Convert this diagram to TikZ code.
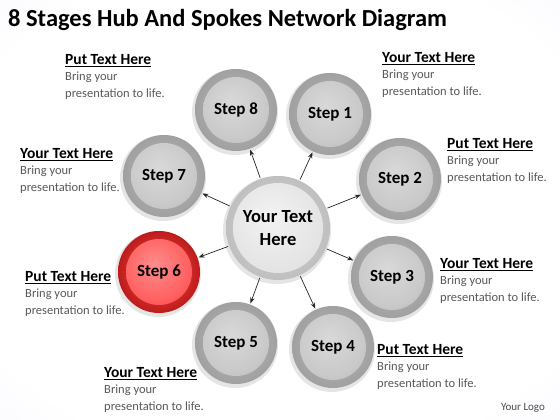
\documentclass[tikz,border=0pt]{standalone}
\usepackage{fontspec}
\setmainfont{Carlito}
\usetikzlibrary{positioning,arrows.meta,backgrounds}

% shadings for the balls
\pgfdeclareradialshading{greyrim}{\pgfpoint{0bp}{0bp}}{color(0bp)=(gray!55); color(39bp)=(gray!85); color(41bp)=(gray!52); color(45bp)=(gray!58); color(48bp)=(gray!70); color(50bp)=(gray!92)}
\pgfdeclareradialshading{greycore}{\pgfpoint{-3bp}{5bp}}{color(0bp)=(gray!30); color(20bp)=(gray!42); color(38bp)=(gray!64); color(46bp)=(gray!84); color(50bp)=(gray!95!black)}
\pgfdeclareradialshading{redrim}{\pgfpoint{0bp}{0bp}}{color(0bp)=(red!70); color(39bp)=(red!60!black); color(41bp)=(red!85); color(45bp)=(red!90!black); color(48bp)=(red!75!black); color(50bp)=(red!50!black)}
\pgfdeclareradialshading{redcore}{\pgfpoint{-3bp}{5bp}}{color(0bp)=(red!45); color(20bp)=(red!62); color(38bp)=(red!88); color(46bp)=(red!80!black); color(50bp)=(red!60!black)}
\pgfdeclareradialshading{hubrim}{\pgfpoint{0bp}{0bp}}{color(0bp)=(gray!35); color(42bp)=(gray!60); color(44bp)=(gray!20); color(47bp)=(gray!48); color(50bp)=(gray!75)}
\pgfdeclareradialshading{hubcore}{\pgfpoint{-4bp}{6bp}}{color(0bp)=(gray!10); color(25bp)=(gray!22); color(43bp)=(gray!42); color(50bp)=(gray!66)}
\pgfdeclareradialshading{bgglow}{\pgfpoint{0bp}{0bp}}{color(0bp)=(white); color(30bp)=(white); color(50bp)=(blue!5!white)}

\tikzset{
  stepball/.style n args={2}{circle, minimum size=82pt, inner sep=0pt,
    font=\bfseries\fontsize{17}{19}\selectfont, shading=#1,
    path picture={\shade[shading=#2] (path picture bounding box.center) circle (33pt);}},
  greyball/.style={stepball={greyrim}{greycore}},
  redball/.style={stepball={redrim}{redcore}},
  hubball/.style={circle, minimum size=104pt, inner sep=0pt, align=center,
    font=\bfseries\fontsize{18.5}{23}\selectfont, shading=hubrim,
    path picture={\shade[shading=hubcore] (path picture bounding box.center) circle (45pt);}},
  spoke/.style={-{Stealth[length=6pt,width=4.5pt]}, line width=0.7pt, black!85,
    shorten <=1pt, shorten >=1pt},
  headtxt/.style={inner sep=0pt, anchor=west, font=\bfseries\fontsize{15.5}{17}\selectfont},
  bodytxt/.style={inner sep=0pt, align=left, text=black!65,
    font=\fontsize{12.5}{17}\selectfont}
}

\begin{document}
\begin{tikzpicture}[x=1pt,y=-1pt]
  \useasboundingbox (0,0) rectangle (560,420);
  \node[anchor=west, inner sep=0pt, font=\bfseries\fontsize{24.5}{28}\selectfont] (title) at (8,20) {8 Stages Hub And Spokes Network Diagram};

  % hub and steps
  \node[hubball] (hub) at (278,228) {Your Text\\Here};
  \node[greyball] (s1) at (330,114) {Step 1};
  \node[greyball] (s2) at (400,179) {Step 2};
  \node[greyball] (s3) at (392,277) {Step 3};
  \node[greyball] (s4) at (333,347) {Step 4};
  \node[greyball] (s5) at (236,343) {Step 5};
  \node[redball] (s6) at (159,272) {Step 6};
  \node[greyball] (s7) at (164,176) {Step 7};
  \node[greyball] (s8) at (236,110) {Step 8};

  \begin{scope}[on background layer]
    \shade[shading=bgglow] (0,0) rectangle (560,420);
    \foreach \s in {1,...,8}
      \fill[black!10] ([xshift=-1pt,yshift=-2pt]s\s.center) circle (43pt);
    \fill[black!10] ([xshift=-1pt,yshift=-2pt]hub.center) circle (54pt);
  \end{scope}

  \foreach \s in {1,...,8}
    \draw[spoke] (hub) -- (s\s);

  % text blocks
  \node[headtxt] (h8) at (65,61) {\underline{Put Text Here}};
  \node[bodytxt, below=4pt of h8.south west, anchor=north west] (b8) {Bring your\\presentation to life.};
  \node[headtxt] (h1) at (382,59) {\underline{Your Text Here}};
  \node[bodytxt, below=4pt of h1.south west, anchor=north west] (b1) {Bring your\\presentation to life.};
  \node[headtxt] (h7) at (20,155) {\underline{Your Text Here}};
  \node[bodytxt, below=4pt of h7.south west, anchor=north west] (b7) {Bring your\\presentation to life.};
  \node[headtxt] (h2) at (447,145) {\underline{Put Text Here}};
  \node[bodytxt, below=4pt of h2.south west, anchor=north west] (b2) {Bring your\\presentation to life.};
  \node[headtxt] (h6) at (25,278) {\underline{Put Text Here}};
  \node[bodytxt, below=4pt of h6.south west, anchor=north west] (b6) {Bring your\\presentation to life.};
  \node[headtxt] (h3) at (440,265) {\underline{Your Text Here}};
  \node[bodytxt, below=4pt of h3.south west, anchor=north west] (b3) {Bring your\\presentation to life.};
  \node[headtxt] (h5) at (104,374) {\underline{Your Text Here}};
  \node[bodytxt, below=4pt of h5.south west, anchor=north west] (b5) {Bring your\\presentation to life.};
  \node[headtxt] (h4) at (377,351) {\underline{Put Text Here}};
  \node[bodytxt, below=4pt of h4.south west, anchor=north west] (b4) {Bring your\\presentation to life.};

  \node[font=\fontsize{11}{13}\selectfont, text=black!70] (logo) at (523,408) {Your Logo};
\end{tikzpicture}
\end{document}
